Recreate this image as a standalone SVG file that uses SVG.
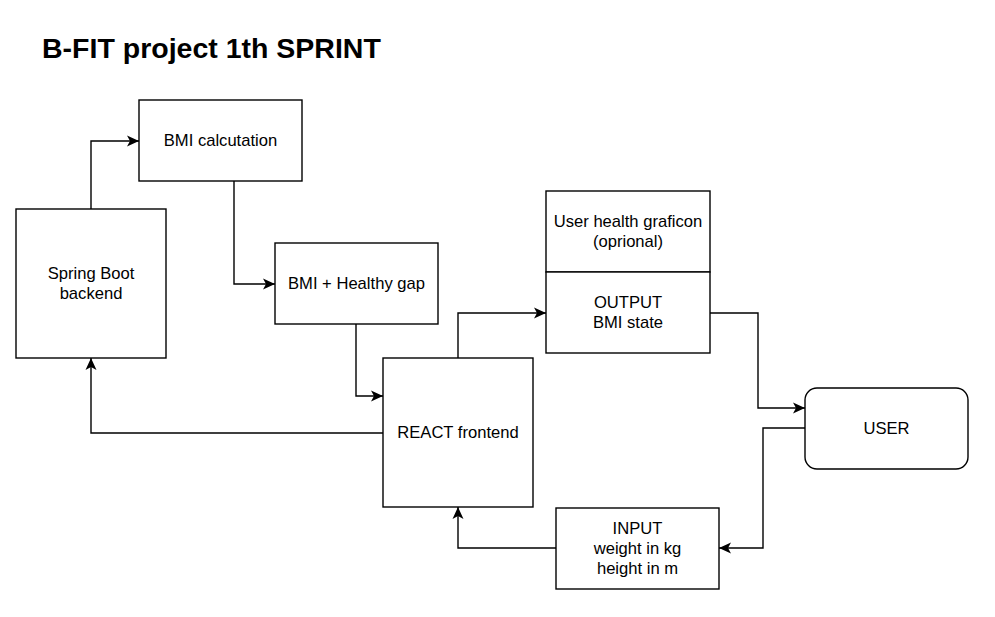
<svg xmlns="http://www.w3.org/2000/svg" width="995" height="617" viewBox="0 0 995 617">
<style>
.box{fill:#fff;stroke:#000;stroke-width:1.4}
.lbl{font-family:"Liberation Sans",Arial,sans-serif;font-size:16.6px;fill:#000;text-anchor:middle}
.title{font-family:"Liberation Sans",Arial,sans-serif;font-size:28.5px;font-weight:bold;fill:#000}
.edge{fill:none;stroke:#000;stroke-width:1.4;marker-end:url(#arr)}
</style>
<defs>
<marker id="arr" markerUnits="userSpaceOnUse" markerWidth="14" markerHeight="12" refX="12" refY="6" orient="auto">
<path d="M0,0.5 L12,6 L0,11.5 L3,6 Z" fill="#000"/>
</marker>
</defs>
<rect width="995" height="617" fill="#fff"/>
<text class="title" x="42" y="58">B-FIT project 1th SPRINT</text>
<g id="connectors">
<path class="edge" d="M91,209 V141 H139"/>
<path class="edge" d="M234,181 V284 H275"/>
<path class="edge" d="M356,324 V396 H383"/>
<path class="edge" d="M383,433 H91 V358"/>
<path class="edge" d="M458,358 V313 H546"/>
<path class="edge" d="M710,313 H758 V408 H805"/>
<path class="edge" d="M805,428 H763 V548 H719"/>
<path class="edge" d="M556,548 H458 V507"/>
</g>
<g id="bmi-calc">
<rect class="box" x="139" y="100" width="163" height="81"/>
<text class="lbl" x="220.5" y="146">BMI calcutation</text>
</g>
<g id="spring-boot">
<rect class="box" x="16" y="209" width="150" height="149"/>
<text class="lbl" x="91" y="279">Spring Boot</text>
<text class="lbl" x="91" y="299">backend</text>
</g>
<g id="bmi-gap">
<rect class="box" x="275" y="243" width="163" height="81"/>
<text class="lbl" x="356.5" y="289">BMI + Healthy gap</text>
</g>
<g id="react">
<rect class="box" x="383" y="358" width="150" height="149"/>
<text class="lbl" x="458" y="438">REACT frontend</text>
</g>
<g id="graficon">
<rect class="box" x="546" y="191" width="164" height="81"/>
<text class="lbl" x="628" y="227">User health graficon</text>
<text class="lbl" x="628" y="247">(oprional)</text>
</g>
<g id="output">
<rect class="box" x="546" y="272" width="164" height="81"/>
<text class="lbl" x="628" y="308">OUTPUT</text>
<text class="lbl" x="628" y="328">BMI state</text>
</g>
<g id="user">
<rect class="box" x="805" y="388" width="163" height="81" rx="12" ry="12"/>
<text class="lbl" x="886.5" y="433.5">USER</text>
</g>
<g id="input">
<rect class="box" x="556" y="508" width="163" height="81"/>
<text class="lbl" x="637.5" y="534">INPUT</text>
<text class="lbl" x="637.5" y="554">weight in kg</text>
<text class="lbl" x="637.5" y="573.5">height in m</text>
</g>
</svg>
